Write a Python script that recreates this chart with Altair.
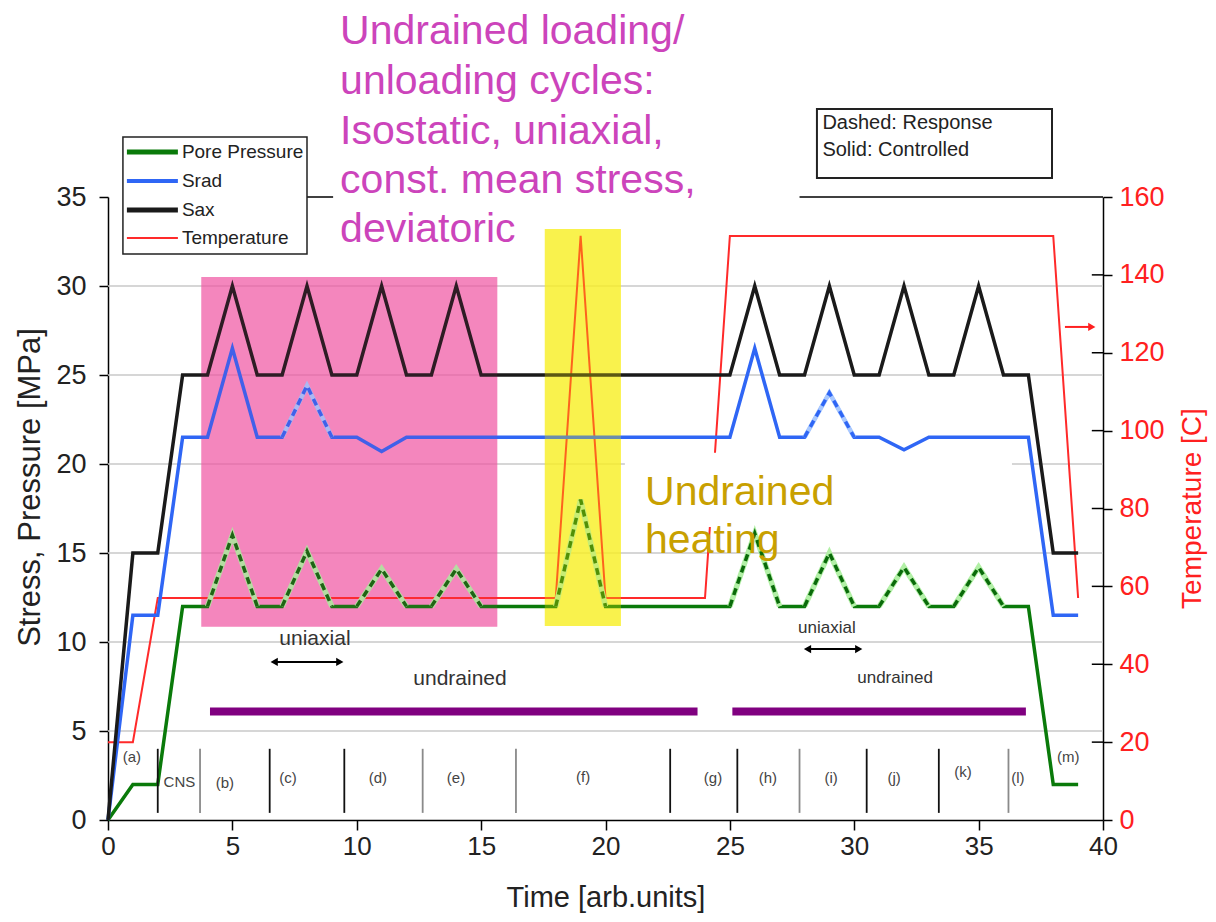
import altair as alt
import pandas as pd

FONT = "Liberation Sans"

# ---------------- data ----------------
T_SAX = [0, 1, 2, 3, 4, 5, 6, 7, 8, 9, 10, 11, 12, 13, 14, 15,
         25, 26, 27, 28, 29, 30, 31, 32, 33, 34, 35, 36, 37, 38, 39]
SAX = [0, 15, 15, 25, 25, 30, 25, 25, 30, 25, 25, 30, 25, 25, 30, 25,
       25, 30, 25, 25, 30, 25, 25, 30, 25, 25, 30, 25, 25, 15, 15]
T_SRAD = T_SAX
SRAD = [0, 11.5, 11.5, 21.5, 21.5, 26.5, 21.5, 21.5, 24.4, 21.5, 21.5, 20.7, 21.5, 21.5, 21.5, 21.5,
        21.5, 26.5, 21.5, 21.5, 24.0, 21.5, 21.5, 20.8, 21.5, 21.5, 21.5, 21.5, 21.5, 11.5, 11.5]
T_PORE = [0, 1, 2, 3, 4, 5, 6, 7, 8, 9, 10, 11, 12, 13, 14, 15, 18, 19, 20,
          25, 26, 27, 28, 29, 30, 31, 32, 33, 34, 35, 36, 37, 38, 39]
PORE = [0, 2, 2, 12, 12, 16, 12, 12, 15.1, 12, 12, 14.1, 12, 12, 14.1, 12, 12, 18, 12,
        12, 16.1, 12, 12, 15, 12, 12, 14.2, 12, 12, 14.2, 12, 12, 2, 2]
T_TEMP = [0, 1, 2, 18, 19, 20, 24, 25, 38, 39]
TEMP = [20, 20, 57, 57, 150, 57, 57, 150, 150, 57]

PORE_RESP = [(4, 6), (7, 9), (10, 12), (13, 15), (18, 20), (25, 27), (28, 30), (31, 33), (34, 36)]
SRAD_RESP = [(7, 9), (28, 30)]

PHASE_T = [2.0, 3.7, 6.5, 9.5, 12.65, 16.4, 22.6, 25.3, 27.8, 30.5, 33.4, 36.2]
PHASE_SHADE = ["k", "g", "k", "k", "g", "g", "k", "k", "g", "k", "k", "g"]
PHASE_LABELS = ["(a)", "CNS", "(b)", "(c)", "(d)", "(e)", "(f)", "(g)", "(h)", "(i)", "(j)", "(k)", "(l)", "(m)"]
PHASE_LABEL_T = [0.96, 2.87, 4.7, 7.24, 10.85, 13.99, 19.1, 24.32, 26.53, 29.07, 31.6, 34.37, 36.58, 38.6]
PHASE_LABEL_Y = [3.54, 2.13, 2.08, 2.36, 2.36, 2.36, 2.42, 2.36, 2.36, 2.36, 2.36, 2.7, 2.36, 3.54]

GRID_Y = [5, 10, 15, 20, 25, 30]
X_TICKS = [0, 5, 10, 15, 20, 25, 30, 35, 40]
Y_TICKS = [0, 5, 10, 15, 20, 25, 30, 35]
T_TICKS = [0, 20, 40, 60, 80, 100, 120, 140, 160]

LEGEND_NAMES = ["Pore Pressure", "Srad", "Sax", "Temperature"]
MAGENTA_LINES = ["Undrained loading/", "unloading cycles:", "Isostatic, uniaxial,",
                 "const. mean stress,", "deviatoric"]
GOLD_LINES = ["Undrained", "heating"]
BOX_LINES = ["Dashed: Response", "Solid: Controlled"]

UND_BARS = [(4.1, 23.7), (25.1, 36.9)]
K = 35.0 / 160.0  # temperature -> stress-axis units

# ---------------- encodings ----------------
XS = alt.Scale(domain=[0, 40], nice=False, zero=False)
YS = alt.Scale(domain=[0, 35], nice=False, zero=False)
XAX = alt.Axis(values=X_TICKS, title="Time [arb.units]", grid=False, domainColor="#000",
               domainWidth=1.5, tickColor="#000", tickWidth=1.5, tickSize=10,
               labelFontSize=26, labelColor="#222", labelPadding=3, labelFlush=False,
               labelOverlap=False, titleFontSize=29, titleFontWeight="normal",
               titleColor="#222", titlePadding=24)
YAX = alt.Axis(values=Y_TICKS, title="Stress, Pressure [MPa]", grid=False, domainColor="#000",
               domainWidth=1.5, tickColor="#000", tickWidth=1.5, tickSize=9,
               labelFontSize=27, labelColor="#222", labelPadding=13, labelFlush=False,
               labelOverlap=False, titleFontSize=31, titleFontWeight="normal",
               titleColor="#222", titleAngle=270, titleX=-78, titleY=290,
               titleAlign="center", titleBaseline="middle")
TAX = alt.Axis(orient="right", values=T_TICKS, title="Temperature [C]", grid=False,
               domainColor="#000", domainWidth=1.5, tickColor="#000", tickWidth=1.5,
               tickSize=9, labelFontSize=27, labelColor="#ff2020", labelPadding=7,
               labelFlush=False, labelOverlap=False, titleFontSize=28,
               titleFontWeight="normal", titleColor="#ff2020", titleAngle=270,
               titleX=89, titleY=311, titleAlign="center", titleBaseline="middle")


def X(f="t"):
    return alt.X(f, type="quantitative", scale=XS, axis=XAX)


def Y(f="s"):
    return alt.Y(f, type="quantitative", scale=YS, axis=YAX)


def line(t, v, color, width, dash=None, segs=None):
    rows = []
    if segs is None:
        rows = [{"t": a, "s": b, "seg": 0} for a, b in zip(t, v)]
    else:
        for i, (lo, hi) in enumerate(segs):
            rows += [{"t": a, "s": b, "seg": i} for a, b in zip(t, v) if lo <= a <= hi]
    kw = dict(color=color, strokeWidth=width, strokeJoin="miter", strokeCap="butt")
    if dash:
        kw["strokeDash"] = dash
    return alt.Chart(pd.DataFrame(rows)).mark_line(**kw).encode(
        x=X(), y=Y(), detail="seg:N")


def rect(t1, t2, s1, s2, color, opacity=1.0, stroke=None, sw=1.5):
    kw = dict(color=color, opacity=opacity)
    if stroke:
        kw = dict(fill=color, fillOpacity=opacity, stroke=stroke, strokeWidth=sw)
    df = pd.DataFrame({"t": [t1], "t2": [t2], "s": [s1], "s2": [s2]})
    return alt.Chart(df).mark_rect(**kw).encode(x=X(), x2="t2", y=Y(), y2="s2")


def hrule(t1, t2, s, color, width):
    df = pd.DataFrame({"t": t1, "t2": t2, "s": s})
    return alt.Chart(df).mark_rule(color=color, strokeWidth=width).encode(
        x=X(), x2="t2", y=Y())


def vrule(t, s1, s2, color, width):
    df = pd.DataFrame({"t": t, "s": s1, "s2": s2})
    return alt.Chart(df).mark_rule(color=color, strokeWidth=width).encode(
        x=X(), y=Y(), y2="s2")


def text(txt, t, s, size, color, align="center", baseline="middle"):
    df = pd.DataFrame({"t": t, "s": s, "txt": txt})
    return alt.Chart(df).mark_text(fontSize=size, color=color, align=align,
                                   baseline=baseline, font=FONT).encode(
        x=X(), y=Y(), text="txt:N")


def tri(t, s, shape, color, size):
    df = pd.DataFrame({"t": t, "s": s})
    return alt.Chart(df).mark_point(shape=shape, filled=True, color=color, size=size,
                                    opacity=1).encode(x=X(), y=Y())


layers = []
# gridlines
layers.append(hrule([0] * len(GRID_Y), [40] * len(GRID_Y), GRID_Y, "#c8c8c8", 1.5))
# top border (partly hidden in the original)
layers.append(hrule([8.0, 27.8], [9.05, 40], [35, 35], "#000", 1.5))
# highlight boxes
layers.append(rect(3.75, 15.65, 10.85, 30.5, "#f25ba8", 0.68))
layers.append(rect(17.56, 20.62, 10.9, 33.2, "#f8f238", 0.72))
# temperature (converted to stress-axis units)
layers.append(line(T_TEMP, [v * K for v in TEMP], "#ff2a2a", 2))
# white mask behind "Undrained heating"
layers.append(rect(20.78, 36.34, 16.46, 20.63, "#ffffff", 1.0))
# controlled lines
layers.append(line(T_PORE, PORE, "#0a7a0a", 3.5))
layers.append(line(T_SRAD, SRAD, "#2f66f5", 3.5))
layers.append(line(T_SAX, SAX, "#1a1a1a", 3.5))
# response (dashed) overlays
layers.append(line(T_PORE, PORE, "#b2f0a6", 5.5, segs=PORE_RESP))
layers.append(line(T_PORE, PORE, "#0a6a0a", 3.5, dash=[7, 5], segs=PORE_RESP))
layers.append(line(T_SRAD, SRAD, "#a8c8ff", 4.5, segs=SRAD_RESP))
layers.append(line(T_SRAD, SRAD, "#2f66f5", 3.5, dash=[7, 5], segs=SRAD_RESP))
# tints over the lines inside the highlight boxes
layers.append(rect(3.75, 15.65, 10.85, 30.5, "#e0307f", 0.1))
layers.append(rect(17.56, 20.62, 10.9, 33.2, "#f8e800", 0.3))
# phase markers
kt = [t for t, c in zip(PHASE_T, PHASE_SHADE) if c == "k"]
gt = [t for t, c in zip(PHASE_T, PHASE_SHADE) if c == "g"]
layers.append(vrule(kt, [0.4] * len(kt), [4.0] * len(kt), "#111", 1.8))
layers.append(vrule(gt, [0.4] * len(gt), [4.0] * len(gt), "#8a8a8a", 1.8))
layers.append(text(PHASE_LABELS, PHASE_LABEL_T, PHASE_LABEL_Y, 15, "#444"))
# right-axis inner ticks
tin = T_TICKS[1:-1]
layers.append(hrule([39.55] * len(tin), [40] * len(tin), [v * K for v in tin], "#000", 1.5))
# uniaxial / undrained annotations
layers.append(text(["uniaxial", "undrained"], [8.32, 14.15], [9.83, 7.58], 21, "#333",
                   baseline="alphabetic"))
layers.append(text(["uniaxial", "undrained"], [28.9, 31.64], [10.5, 7.7], 17, "#333",
                   baseline="alphabetic"))
layers.append(hrule([6.75, 28.2], [9.25, 30.1], [8.88, 9.6], "#000", 2))
layers.append(tri([6.68, 28.12], [8.88, 9.6], "triangle-left", "#000", 70))
layers.append(tri([9.32, 30.18], [8.88, 9.6], "triangle-right", "#000", 70))
layers.append(hrule([b[0] for b in UND_BARS], [b[1] for b in UND_BARS], [6.1, 6.1], "#800080", 8))
# red arrow to the right axis
layers.append(hrule([38.47], [39.5], [27.7], "#ff2020", 2))
layers.append(tri([39.55], [27.7], "triangle-right", "#ff2020", 70))
# legend box
layers.append(rect(0.6, 8.0, 31.8, 38.37, "#ffffff", 1.0, stroke="#222", sw=1.5))
LEG_Y = [37.53, 35.9, 34.27, 32.7]
LEG_COL = ["#0a7a0a", "#2f66f5", "#1a1a1a", "#ff2a2a"]
LEG_W = [5, 4, 5, 2]
for yy, cc, ww in zip(LEG_Y, LEG_COL, LEG_W):
    layers.append(hrule([0.76], [2.81], [yy], cc, ww))
layers.append(text(LEGEND_NAMES, [2.97] * 4, LEG_Y, 19, "#222", align="left"))
# dashed/solid box
layers.append(rect(28.5, 37.95, 36.07, 39.94, "#ffffff", 1.0, stroke="#222", sw=2))
layers.append(text(BOX_LINES, [28.72, 28.72], [39.16, 37.64], 20, "#222", align="left"))
# big annotations
layers.append(text(MAGENTA_LINES, [9.33] * 5, [43.6, 40.8, 38.0, 35.2, 32.45], 41,
                   "#cc44bb", align="left", baseline="alphabetic"))
layers.append(text(GOLD_LINES, [21.59] * 2, [17.7, 15.0], 41, "#c8a000", align="left",
                   baseline="alphabetic"))

main = alt.layer(*layers)

temp_axis = alt.Chart(pd.DataFrame({"t": [0, 0], "T": [0, 160]})).mark_point(opacity=0).encode(
    x=X(), y=alt.Y("T", type="quantitative", scale=alt.Scale(domain=[0, 160], nice=False, zero=False),
                   axis=TAX))

chart = alt.layer(main, temp_axis).resolve_scale(y="independent").properties(
    width=995, height=623,
    autosize=alt.AutoSizeParams(type="none"),
    padding={"left": 100, "top": 189, "right": 105, "bottom": 94},
).configure_view(stroke=None).configure_axis(labelFont=FONT, titleFont=FONT)

chart.save("out.html", embed_options={"renderer": "svg", "actions": False})
